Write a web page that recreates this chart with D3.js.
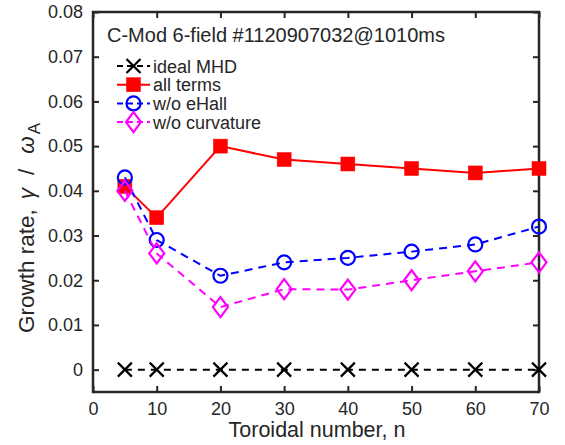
<!DOCTYPE html>
<html>
<head>
<meta charset="utf-8">
<script src="https://cdn.jsdelivr.net/npm/d3@7"></script>
<style>
  html, body { margin: 0; padding: 0; background: #fff; }
  svg { display: block; }
  text { font-family: "Liberation Sans", Arial, Helvetica, sans-serif; fill: #262626; }
</style>
</head>
<body>
<svg id="chart" width="565" height="445"></svg>
<script>
// Toroidal mode numbers scanned
const nValues = [5, 10, 20, 30, 40, 50, 60, 70];

// Growth rates gamma / omega_A for each model variant
const idealMHD     = [0, 0, 0, 0, 0, 0, 0, 0];
const allTerms     = [0.041, 0.034, 0.050, 0.047, 0.046, 0.045, 0.044, 0.045];
const woEHall      = [0.043, 0.029, 0.021, 0.024, 0.025, 0.0264, 0.028, 0.032];
const woCurvature  = [0.040, 0.026, 0.014, 0.018, 0.0179, 0.020, 0.022, 0.024];

const xTicks = [0, 10, 20, 30, 40, 50, 60, 70];
const yTicks = [0, 0.01, 0.02, 0.03, 0.04, 0.05, 0.06, 0.07, 0.08];

const titleText = "C-Mod 6-field #1120907032@1010ms";

const series = [
  { name: "ideal MHD",     values: idealMHD,    color: "#000000", dash: "7,6", marker: "x" },
  { name: "all terms",     values: allTerms,    color: "#ff0000", dash: null,  marker: "square" },
  { name: "w/o eHall",     values: woEHall,     color: "#0000ff", dash: "8,6", marker: "circle" },
  { name: "w/o curvature", values: woCurvature, color: "#ff00ff", dash: "8,6", marker: "diamond" }
];

const svg = d3.select("#chart");
const plot = { left: 93, right: 539, top: 12, bottom: 392 };

const x = d3.scaleLinear().domain([0, 70]).range([plot.left, plot.right]);
const y = d3.scaleLinear().domain([-0.005, 0.08]).range([plot.bottom, plot.top]);

const axisColor = "#262626";
const fontSize = 18;

// Axes: bottom / left with labels, top / right mirrored ticks; ticks point inward
const tickLen = 6;
const xAxis = d3.axisBottom(x).tickValues(xTicks).tickSizeInner(-tickLen).tickSizeOuter(0).tickPadding(10).tickFormat(d3.format("d"));
const yAxis = d3.axisLeft(y).tickValues(yTicks).tickSizeInner(-tickLen).tickSizeOuter(0).tickPadding(10)
  .tickFormat(d => d === 0 ? "0" : d3.format(".2f")(d));
const xAxisTop = d3.axisTop(x).tickValues(xTicks).tickSizeInner(-tickLen).tickSizeOuter(0).tickFormat("");
const yAxisRight = d3.axisRight(y).tickValues(yTicks).tickSizeInner(-tickLen).tickSizeOuter(0).tickFormat("");

function styleAxis(g) {
  g.select(".domain").remove();
  g.selectAll(".tick line").attr("stroke", axisColor).attr("stroke-width", 2);
  g.selectAll(".tick text").attr("fill", axisColor).style("font-size", fontSize + "px")
    .style("font-family", "'Liberation Sans', Arial, sans-serif");
}

svg.append("g").attr("transform", `translate(0,${plot.bottom})`).call(xAxis).call(styleAxis);
svg.append("g").attr("transform", `translate(${plot.left},0)`).call(yAxis).call(styleAxis);
svg.append("g").attr("transform", `translate(0,${plot.top})`).call(xAxisTop).call(styleAxis);
svg.append("g").attr("transform", `translate(${plot.right},0)`).call(yAxisRight).call(styleAxis);

// Box frame
svg.append("rect")
  .attr("x", plot.left).attr("y", plot.top)
  .attr("width", plot.right - plot.left).attr("height", plot.bottom - plot.top)
  .attr("fill", "none").attr("stroke", axisColor).attr("stroke-width", 2.5);

// Marker drawing helper
function drawMarker(g, kind, cx, cy, color) {
  if (kind === "x") {
    const s = 7;
    g.append("path").attr("d", `M${cx - s},${cy - s}L${cx + s},${cy + s}M${cx - s},${cy + s}L${cx + s},${cy - s}`)
      .attr("stroke", color).attr("stroke-width", 2.2).attr("fill", "none");
  } else if (kind === "square") {
    const s = 7;
    g.append("rect").attr("x", cx - s).attr("y", cy - s).attr("width", 2 * s).attr("height", 2 * s)
      .attr("fill", color).attr("stroke", color).attr("stroke-width", 0.5);
  } else if (kind === "circle") {
    g.append("circle").attr("cx", cx).attr("cy", cy).attr("r", 7)
      .attr("fill", "none").attr("stroke", color).attr("stroke-width", 2.2);
  } else if (kind === "diamond") {
    const w = 7.5, h = 10;
    g.append("path").attr("d", `M${cx},${cy - h}L${cx + w},${cy}L${cx},${cy + h}L${cx - w},${cy}Z`)
      .attr("fill", "none").attr("stroke", color).attr("stroke-width", 2.2);
  }
}

const line = d3.line().x(d => x(d[0])).y(d => y(d[1]));

series.forEach(s => {
  const pts = nValues.map((n, i) => [n, s.values[i]]);
  const g = svg.append("g");
  g.append("path").datum(pts).attr("d", line)
    .attr("fill", "none").attr("stroke", s.color).attr("stroke-width", 2)
    .attr("stroke-dasharray", s.dash);
  pts.forEach(p => drawMarker(g, s.marker, x(p[0]), y(p[1]), s.color));
});

// Annotation title inside the axes
svg.append("text").attr("x", 107).attr("y", 42).style("font-size", "20px").text(titleText);

// Legend
const legend = svg.append("g");
series.forEach((s, i) => {
  const cy = 66 + i * 18.7;
  legend.append("line").attr("x1", 117).attr("x2", 150).attr("y1", cy).attr("y2", cy)
    .attr("stroke", s.color).attr("stroke-width", 2).attr("stroke-dasharray", s.dash ? "6,4" : null);
  drawMarker(legend, s.marker, 133.5, cy, s.color);
  legend.append("text").attr("x", 153).attr("y", cy + 6.5).style("font-size", fontSize + "px").text(s.name);
});

// Axis titles
svg.append("text").attr("x", x(35) + 1).attr("y", 437).attr("text-anchor", "middle")
  .style("font-size", "21.5px").text("Toroidal number, n");

const yl = svg.append("text")
  .attr("transform", `translate(34,333) rotate(-90)`)
  .attr("text-anchor", "start").style("font-size", "22.5px");
yl.append("tspan").text("Growth rate,");
yl.append("tspan").attr("dx", 10).style("font-style", "italic").text("γ");
yl.append("tspan").attr("dx", 13).text("/");
yl.append("tspan").attr("dx", 15).style("font-style", "italic").text("ω");
yl.append("tspan").attr("dx", 2).attr("dy", 6).style("font-size", "17px").text("A");
</script>
</body>
</html>
